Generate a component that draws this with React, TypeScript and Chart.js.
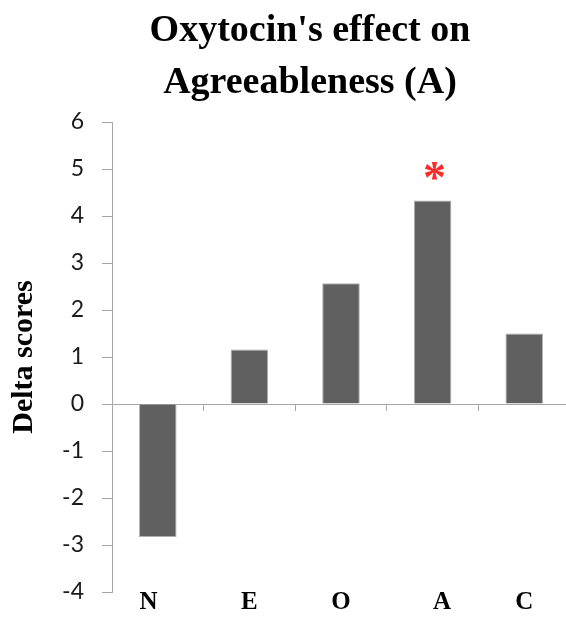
import React, { useEffect, useRef } from 'react';
import { Chart, registerables } from 'chart.js';

Chart.register(...registerables);

// ---- data ----
const titleLines = ["Oxytocin's effect on", 'Agreeableness (A)'];
const categories = ['N', 'E', 'O', 'A', 'C'];
const deltaScores = [-2.83, 1.16, 2.57, 4.33, 1.5];
const significance = ['', '', '', '*', ''];
const yAxisTitle = 'Delta scores';
const yMin = -4;
const yMax = 6;
const yStep = 1;

const SERIF = '"Liberation Serif", "Times New Roman", serif';
const AXIS_GRAY = '#a6a6a6';

// small visual nudges of the category letters, as in the original figure
const labelFormat = (label: string, i: number) => {
  if (i === 0) return label + '   ';
  if (i === 3) return '   ' + label;
  return label;
};

const titlePlugin = {
  id: 'mainTitle',
  afterDraw(chart: any) {
    const ctx = chart.ctx;
    ctx.save();
    ctx.font = `bold 38px ${SERIF}`;
    ctx.fillStyle = '#000';
    ctx.textAlign = 'center';
    ctx.textBaseline = 'alphabetic';
    const baselines = [41, 93];
    titleLines.forEach((t, i) => ctx.fillText(t, 310, baselines[i]));
    ctx.restore();
  },
};

const starPlugin = {
  id: 'significanceStars',
  afterDatasetsDraw(chart: any) {
    const ctx = chart.ctx;
    const meta = chart.getDatasetMeta(0);
    ctx.save();
    ctx.font = `bold 46px ${SERIF}`;
    ctx.fillStyle = '#ff2a2a';
    ctx.textAlign = 'center';
    ctx.textBaseline = 'alphabetic';
    significance.forEach((mark, i) => {
      if (!mark) return;
      const el = meta.data[i];
      const m = ctx.measureText(mark);
      const centerY = el.y - 29;
      const baseY = centerY + (m.actualBoundingBoxAscent - m.actualBoundingBoxDescent) / 2;
      ctx.fillText(mark, el.x + 2, baseY);
    });
    ctx.restore();
  },
};

export default function App() {
  const ref = useRef<HTMLCanvasElement | null>(null);

  useEffect(() => {
    if (!ref.current) return;
    const chart = new Chart(ref.current, {
      type: 'bar',
      data: {
        labels: categories,
        datasets: [
          {
            data: deltaScores,
            backgroundColor: '#606060',
            borderColor: '#b0b0b0',
            borderWidth: 1,
            barPercentage: 0.41,
            categoryPercentage: 1,
          },
        ],
      },
      options: {
        responsive: false,
        animation: false,
        devicePixelRatio: 1,
        layout: { padding: { top: 122, left: 0, right: 0, bottom: 0 } },
        plugins: {
          legend: { display: false },
          title: { display: false },
          tooltip: { enabled: false },
        },
        scales: {
          x: {
            type: 'category',
            grid: { display: false, drawTicks: false, tickLength: 0 },
            border: { display: false },
            ticks: {
              font: { family: SERIF, size: 25, weight: 'bold', lineHeight: 0.84 },
              color: '#000',
              padding: 0,
              maxRotation: 0,
              autoSkip: false,
              callback: (_v: any, i: number) => labelFormat(categories[i], i),
            },
          },
          x2: {
            type: 'category',
            position: { y: 0 },
            offset: true,
            grid: {
              offset: true,
              drawOnChartArea: false,
              drawTicks: true,
              tickLength: 6,
              color: AXIS_GRAY,
            },
            border: { display: true, color: AXIS_GRAY, width: 1 },
            ticks: { display: false },
          },
          y: {
            min: yMin,
            max: yMax,
            ticks: {
              stepSize: yStep,
              font: { family: 'Lato, "Open Sans", sans-serif', size: 23 },
              color: '#1a1a1a',
              padding: 18,
            },
            grid: {
              drawOnChartArea: false,
              drawTicks: true,
              tickLength: 10,
              color: AXIS_GRAY,
            },
            border: { display: true, color: AXIS_GRAY, width: 1 },
            title: {
              display: true,
              text: yAxisTitle,
              color: '#000',
              font: { family: SERIF, size: 30, weight: 'bold', lineHeight: 1.2 },
              padding: { top: 6, bottom: 0 },
            },
            afterFit: (scale: any) => {
              scale.width = 112;
              scale.paddingTop = 0;
              scale.paddingBottom = 0;
            },
          },
        },
      },
      plugins: [titlePlugin, starPlugin],
    } as any);
    return () => chart.destroy();
  }, []);

  return (
    <div
      style={{
        position: 'fixed',
        left: 0,
        top: 0,
        width: 566,
        height: 617,
        overflow: 'hidden',
        background: '#fff',
      }}
    >
      <canvas ref={ref} width={570} height={613} style={{ display: 'block' }} />
    </div>
  );
}
